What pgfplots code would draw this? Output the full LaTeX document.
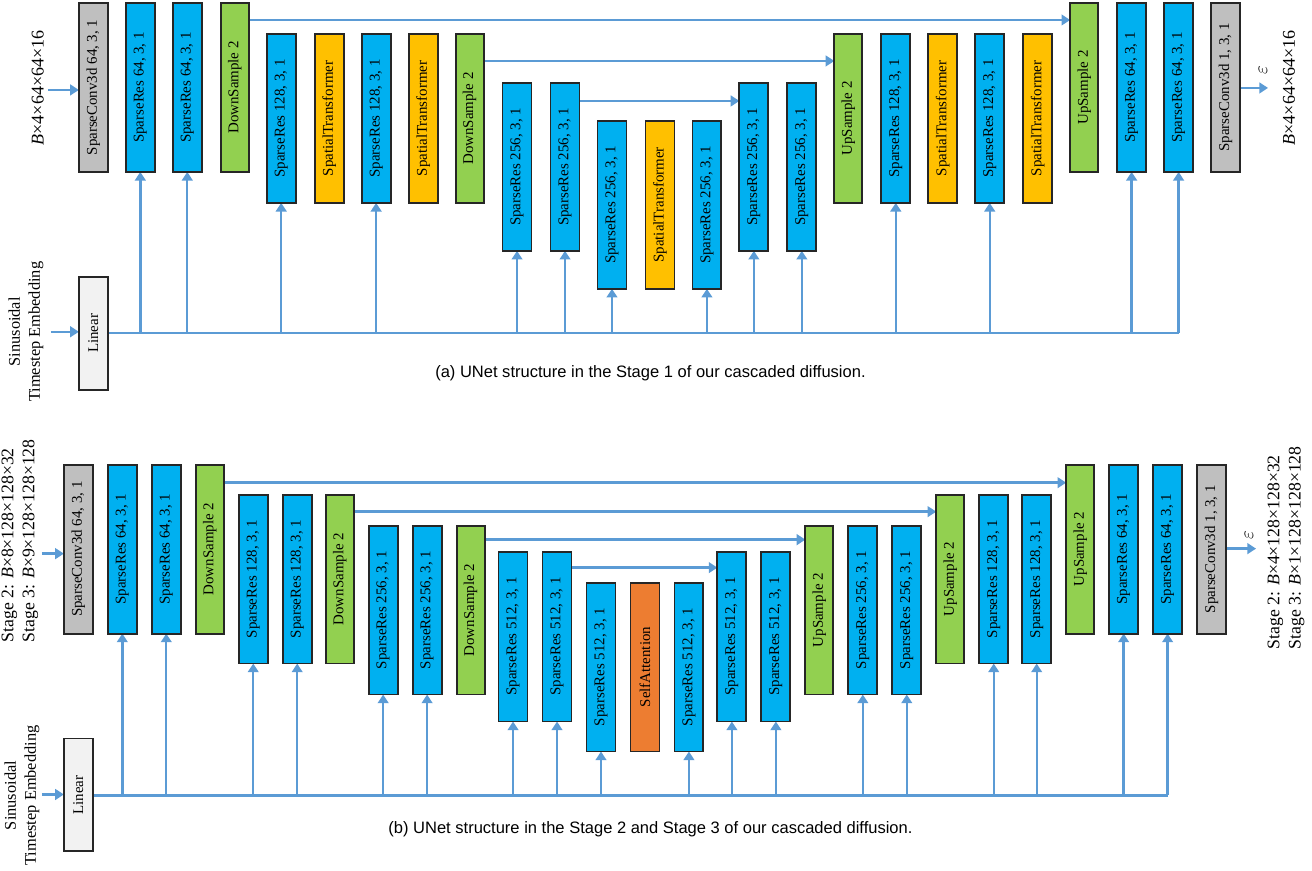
\documentclass[border=0pt]{standalone}
\usepackage{pgfplots}
\pgfplotsset{compat=1.18}
\usetikzlibrary{arrows.meta}
\usepackage{fontspec}
\setmainfont{Liberation Serif}
\newfontfamily\capfont{Liberation Sans}
\definecolor{cblue}{HTML}{00B0F0}
\definecolor{cgreen}{HTML}{92D050}
\definecolor{cyellow}{HTML}{FFC000}
\definecolor{cgray}{HTML}{BFBFBF}
\definecolor{clight}{HTML}{F2F2F2}
\definecolor{corange}{HTML}{ED7D31}
\definecolor{cline}{HTML}{5B9BD5}
\newcommand{\bxfont}{\fontsize{11.2}{12}\selectfont}
% box: x1 x2 y1 y2 fill label
\newcommand{\blk}[6]{%
  \addplot[draw=black!85, line width=1.4pt, fill=#5, line join=miter] coordinates {(#1,#3) (#2,#3) (#2,#4) (#1,#4)} -- cycle;
  \node[rotate=90, font=\bxfont, inner sep=0pt] at (axis cs:{(#1+#2)/2},{(#3+#4)/2}) {#6};
}
\newcommand{\arr}[4]{%
  \addplot[cline, line width=1.8pt, -{Triangle[width=8pt,length=6.5pt]}] coordinates {(#1,#2) (#3,#4)};
}
\newcommand{\lin}[4]{%
  \addplot[cline, line width=1.8pt] coordinates {(#1,#2) (#3,#4)};
}
\begin{document}
\begin{tikzpicture}
\begin{axis}[width=984pt, height=653.25pt, scale only axis,
  xmin=0, xmax=1312, ymin=0, ymax=871, y dir=reverse,
  hide axis, clip=false]
\path (axis cs:0,0) rectangle (axis cs:1312,871);
%%%%%%%%%%%%%% Panel (a)
% timestep line and arrows
\lin{107}{333}{1178.5}{333}
\arr{139.5}{333}{139.5}{172}
\arr{186.5}{333}{186.5}{172}
\arr{280.5}{333}{280.5}{203}
\arr{375.5}{333}{375.5}{203}
\arr{516.5}{333}{516.5}{251}
\arr{564.5}{333}{564.5}{251}
\arr{611.5}{333}{611.5}{289}
\arr{706.5}{333}{706.5}{289}
\arr{753.5}{333}{753.5}{251}
\arr{801.5}{333}{801.5}{251}
\arr{895.5}{333}{895.5}{203}
\arr{989.5}{333}{989.5}{203}
\arr{1131.5}{333}{1131.5}{172}
\arr{1178.5}{333}{1178.5}{172}
% skips
\arr{248}{20}{1070}{20}
\arr{483}{61}{834}{61}
\arr{579}{101}{739}{101}
% in/out
\arr{47}{90}{78}{90}
\arr{1240}{88}{1268}{88}
\arr{50}{332}{78}{332}
% boxes
\blk{78}{107}{3}{172}{cgray}{SparseConv3d 64, 3, 1}
\blk{125}{154}{3}{172}{cblue}{SparseRes 64, 3, 1}
\blk{172}{201}{3}{172}{cblue}{SparseRes 64, 3, 1}
\blk{220}{248}{3}{172}{cgreen}{DownSample 2}
\blk{266}{295}{34}{203}{cblue}{SparseRes 128, 3, 1}
\blk{314}{343}{34}{203}{cyellow}{SpatialTransformer}
\blk{361}{390}{34}{203}{cblue}{SparseRes 128, 3, 1}
\blk{408}{437}{34}{203}{cyellow}{SpatialTransformer}
\blk{455}{483}{34}{203}{cgreen}{DownSample 2}
\blk{502}{531}{83}{251}{cblue}{SparseRes 256, 3, 1}
\blk{550}{579}{83}{251}{cblue}{SparseRes 256, 3, 1}
\blk{597}{626}{121}{289}{cblue}{SparseRes 256, 3, 1}
\blk{645}{674}{121}{289}{cyellow}{SpatialTransformer}
\blk{692}{721}{121}{289}{cblue}{SparseRes 256, 3, 1}
\blk{739}{768}{83}{251}{cblue}{SparseRes 256, 3, 1}
\blk{787}{816}{83}{251}{cblue}{SparseRes 256, 3, 1}
\blk{834}{862}{34}{203}{cgreen}{UpSample 2}
\blk{881}{910}{34}{203}{cblue}{SparseRes 128, 3, 1}
\blk{928}{957}{34}{203}{cyellow}{SpatialTransformer}
\blk{975}{1004}{34}{203}{cblue}{SparseRes 128, 3, 1}
\blk{1023}{1052}{34}{203}{cyellow}{SpatialTransformer}
\blk{1070}{1098}{3}{172}{cgreen}{UpSample 2}
\blk{1117}{1146}{3}{172}{cblue}{SparseRes 64, 3, 1}
\blk{1164}{1193}{3}{172}{cblue}{SparseRes 64, 3, 1}
\blk{1211}{1240}{3}{172}{cgray}{SparseConv3d 1, 3, 1}
\blk{78}{107}{277}{390}{clight}{Linear}
% labels
\node[rotate=90, font=\fontsize{13.5}{16}\selectfont] at (axis cs:37,88) {\textit{B}×4×64×64×16};
\node[rotate=90, font=\fontsize{13.5}{16}\selectfont] at (axis cs:1289,88) {\textit{B}×4×64×64×16};
\node[rotate=90, font=\fontsize{14}{15}\selectfont] at (axis cs:1263,70) {$\varepsilon$};
\node[rotate=90, align=center, font=\fontsize{12.3}{15}\selectfont] at (axis cs:25,332) {Sinusoidal\\Timestep Embedding};
\node[font=\capfont\fontsize{12.4}{14}\selectfont] at (axis cs:650,373) {(a) UNet structure in the Stage 1 of our cascaded diffusion.};
%%%%%%%%%%%%%% Panel (b)
\lin{92}{796}{1167.5}{796}
\arr{121.5}{796}{121.5}{634}
\arr{165.5}{796}{165.5}{634}
\arr{252.5}{796}{252.5}{664}
\arr{296.5}{796}{296.5}{664}
\arr{382.5}{796}{382.5}{695}
\arr{426.5}{796}{426.5}{695}
\arr{512.5}{796}{512.5}{722}
\arr{556.5}{796}{556.5}{722}
\arr{600.5}{796}{600.5}{752}
\arr{688.5}{796}{688.5}{752}
\arr{731.5}{796}{731.5}{722}
\arr{775.5}{796}{775.5}{722}
\arr{862.5}{796}{862.5}{695}
\arr{906.5}{796}{906.5}{695}
\arr{993.5}{796}{993.5}{664}
\arr{1036.5}{796}{1036.5}{664}
\arr{1123.5}{796}{1123.5}{634}
\arr{1167.5}{796}{1167.5}{634}
% skips
\arr{224}{483}{1066}{483}
\arr{354}{512}{936}{512}
\arr{485}{540}{805}{540}
\arr{571}{568}{717}{568}
% in/out
\arr{41}{554}{63}{554}
\arr{1226}{549}{1256}{549}
\arr{41}{795}{63}{795}
% boxes
\blk{63}{92}{465}{634}{cgray}{SparseConv3d 64, 3, 1}
\blk{107}{136}{465}{634}{cblue}{SparseRes 64, 3, 1}
\blk{151}{180}{465}{634}{cblue}{SparseRes 64, 3, 1}
\blk{195}{223}{465}{634}{cgreen}{DownSample 2}
\blk{238}{267}{495}{664}{cblue}{SparseRes 128, 3, 1}
\blk{282}{311}{495}{664}{cblue}{SparseRes 128, 3, 1}
\blk{325}{353}{495}{664}{cgreen}{DownSample 2}
\blk{368}{397}{526}{695}{cblue}{SparseRes 256, 3, 1}
\blk{412}{441}{526}{695}{cblue}{SparseRes 256, 3, 1}
\blk{456}{484}{526}{695}{cgreen}{DownSample 2}
\blk{498}{527}{552}{722}{cblue}{SparseRes 512, 3, 1}
\blk{542}{571}{552}{722}{cblue}{SparseRes 512, 3, 1}
\blk{586}{615}{583}{752}{cblue}{SparseRes 512, 3, 1}
\blk{630}{659}{583}{752}{corange}{SelfAttention}
\blk{674}{703}{583}{752}{cblue}{SparseRes 512, 3, 1}
\blk{717}{746}{552}{722}{cblue}{SparseRes 512, 3, 1}
\blk{761}{790}{552}{722}{cblue}{SparseRes 512, 3, 1}
\blk{805}{833}{526}{695}{cgreen}{UpSample 2}
\blk{848}{877}{526}{695}{cblue}{SparseRes 256, 3, 1}
\blk{892}{921}{526}{695}{cblue}{SparseRes 256, 3, 1}
\blk{936}{964}{495}{664}{cgreen}{UpSample 2}
\blk{979}{1008}{495}{664}{cblue}{SparseRes 128, 3, 1}
\blk{1022}{1051}{495}{664}{cblue}{SparseRes 128, 3, 1}
\blk{1066}{1094}{465}{634}{cgreen}{UpSample 2}
\blk{1109}{1138}{465}{634}{cblue}{SparseRes 64, 3, 1}
\blk{1153}{1182}{465}{634}{cblue}{SparseRes 64, 3, 1}
\blk{1197}{1226}{465}{634}{cgray}{SparseConv3d 1, 3, 1}
\blk{63}{92}{739}{852}{clight}{Linear}
% labels
\node[rotate=90, anchor=west, align=left, inner sep=0pt, font=\fontsize{13.3}{15.8}\selectfont] at (axis cs:19,643) {Stage 2: \textit{B}×8×128×128×32\\Stage 3: \textit{B}×9×128×128×128};
\node[rotate=90, anchor=west, align=left, inner sep=0pt, font=\fontsize{13.3}{15.8}\selectfont] at (axis cs:1286,650) {Stage 2: \textit{B}×4×128×128×32\\Stage 3: \textit{B}×1×128×128×128};
\node[rotate=90, font=\fontsize{14}{15}\selectfont] at (axis cs:1249,535) {$\varepsilon$};
\node[rotate=90, align=center, font=\fontsize{12.3}{15}\selectfont] at (axis cs:21,796) {Sinusoidal\\Timestep Embedding};
\node[font=\capfont\fontsize{12.4}{14}\selectfont] at (axis cs:650,830) {(b) UNet structure in the Stage 2 and Stage 3 of our cascaded diffusion.};
\end{axis}
\end{tikzpicture}
\end{document}
